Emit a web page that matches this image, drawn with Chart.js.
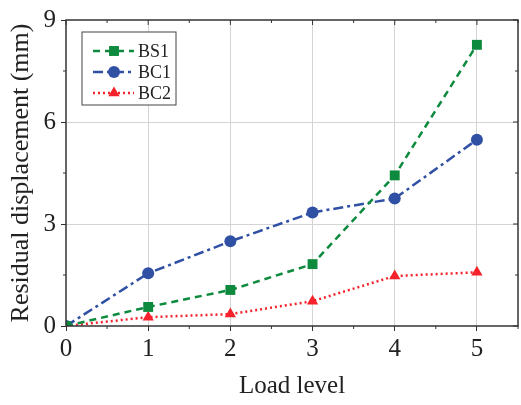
<!DOCTYPE html>
<html lang="en">
  <head>
    <meta charset="UTF-8" />
    <script src="https://cdn.jsdelivr.net/npm/chart.js@4.4.0/dist/chart.umd.min.js"></script>
    <title>Residual displacement</title>
    <style>
      html, body { margin: 0; padding: 0; background: #fff; }
      #wrap { width: 521px; height: 405px; }
    </style>
  </head>
  <body>
    <div id="wrap"><canvas id="myChart"></canvas></div>

    <script>
      const loadLevels = [0, 1, 2, 3, 4, 5];
      const bs1 = [0, 0.56, 1.06, 1.82, 4.43, 8.27];
      const bc1 = [0, 1.55, 2.49, 3.34, 3.75, 5.48];
      const bc2 = [0, 0.26, 0.35, 0.73, 1.47, 1.58];
      const xTicks = [0, 1, 2, 3, 4, 5];
      const yTicks = [0, 3, 6, 9];

      const FONT = "'Liberation Serif', 'Times New Roman', serif";
      const GREEN = "#0e8a3e";
      const BLUE = "#3050a4";
      const RED = "#f5222b";

      const series = [
        { label: "BS1", data: bs1, color: GREEN, dash: [7, 5], style: "rect", radius: 7 },
        { label: "BC1", data: bc1, color: BLUE, dash: [10, 4, 3, 4], style: "circle", radius: 6 },
        { label: "BC2", data: bc2, color: RED, dash: [2, 3], style: "triangle", radius: 6.5 },
      ];

      // frame, minor ticks and the legend box inside the plot
      const framePlugin = {
        id: "frame",
        afterDraw(chart) {
          const { ctx, chartArea: a, scales } = chart;
          ctx.save();
          ctx.strokeStyle = "#333";
          ctx.lineWidth = 1.5;
          ctx.setLineDash([]);
          ctx.strokeRect(a.left, a.top, a.right - a.left, a.bottom - a.top);

          ctx.lineWidth = 1;
          for (let v = 0; v <= 5.5; v += 0.5) {
            const x = scales.x.getPixelForValue(v);
            const len = Number.isInteger(v) ? 5 : 3;
            ctx.beginPath();
            ctx.moveTo(x, a.top);
            ctx.lineTo(x, a.top + len);
            ctx.stroke();
            if (!Number.isInteger(v)) {
              ctx.beginPath();
              ctx.moveTo(x, a.bottom);
              ctx.lineTo(x, a.bottom + 3);
              ctx.stroke();
            }
          }
          for (let v = 0; v <= 9; v += 1.5) {
            const y = scales.y.getPixelForValue(v);
            const len = v % 3 === 0 ? 5 : 3;
            ctx.beginPath();
            ctx.moveTo(a.right, y);
            ctx.lineTo(a.right - len, y);
            ctx.stroke();
            if (v % 3 !== 0) {
              ctx.beginPath();
              ctx.moveTo(a.left, y);
              ctx.lineTo(a.left - 3, y);
              ctx.stroke();
            }
          }

          // legend
          const bx = 82, by = 32, bw = 94, bh = 73;
          ctx.fillStyle = "#fff";
          ctx.fillRect(bx, by, bw, bh);
          ctx.strokeStyle = "#444";
          ctx.lineWidth = 1;
          ctx.strokeRect(bx, by, bw, bh);
          series.forEach((s, i) => {
            const y = 51 + i * 21;
            ctx.strokeStyle = s.color;
            ctx.lineWidth = 2.5;
            ctx.setLineDash(s.dash);
            ctx.beginPath();
            ctx.moveTo(93, y);
            ctx.lineTo(134, y);
            ctx.stroke();
            ctx.setLineDash([]);
            ctx.fillStyle = s.color;
            Chart.helpers.drawPoint(ctx, { pointStyle: s.style, radius: s.radius, borderWidth: 0 }, 114, y);
            ctx.fillStyle = "#222";
            ctx.font = "18px " + FONT;
            ctx.textBaseline = "middle";
            ctx.fillText(s.label, 138, y + 1);
          });
          ctx.restore();
        },
      };

      function draw() {
        const ctx = document.getElementById("myChart").getContext("2d");
        new Chart(ctx, {
          type: "line",
          data: {
            datasets: series.map((s) => ({
              label: s.label,
              data: loadLevels.map((x, i) => ({ x, y: s.data[i] })),
              borderColor: s.color,
              backgroundColor: s.color,
              borderWidth: 2.5,
              borderDash: s.dash,
              pointStyle: s.style,
              pointRadius: s.radius,
              pointBorderWidth: 0,
              fill: false,
              tension: 0,
            })),
          },
          options: {
            responsive: true,
            maintainAspectRatio: false,
            animation: false,
            layout: { autoPadding: false, padding: { top: 19, right: 3, left: 0, bottom: 0 } },
            plugins: { legend: { display: false }, tooltip: { enabled: false } },
            scales: {
              x: {
                type: "linear",
                min: 0,
                max: 5.5,
                afterBuildTicks: (axis) => { axis.ticks = xTicks.map((v) => ({ value: v })); },
                afterFit: (axis) => { axis.height = 79; },
                border: { display: false },
                grid: {
                  color: (c) => (c.tick && c.tick.value === 0 ? "rgba(0,0,0,0)" : "#d4d4d4"),
                  tickColor: "#333",
                  tickLength: 5,
                  lineWidth: 1,
                },
                ticks: {
                  color: "#222",
                  font: { family: FONT, size: 25 },
                  padding: 3,
                  maxRotation: 0,
                },
                title: {
                  display: true,
                  text: "Load level",
                  color: "#222",
                  font: { family: FONT, size: 25 },
                  padding: { top: 8 },
                },
              },
              y: {
                min: 0,
                max: 9,
                afterBuildTicks: (axis) => { axis.ticks = yTicks.map((v) => ({ value: v })); },
                afterFit: (axis) => { axis.width = 66; },
                border: { display: false },
                grid: {
                  color: (c) => (c.tick && (c.tick.value === 0 || c.tick.value === 9) ? "rgba(0,0,0,0)" : "#d4d4d4"),
                  tickColor: "#333",
                  tickLength: 5,
                  lineWidth: 1,
                },
                ticks: {
                  color: "#222",
                  font: { family: FONT, size: 25 },
                  padding: 5,
                },
                title: {
                  display: true,
                  text: "Residual displacement (mm)",
                  color: "#222",
                  font: { family: FONT, size: 26 },
                  padding: { top: 6, bottom: 0 },
                },
              },
            },
          },
          plugins: [framePlugin],
        });
      }

      document.fonts.load("20px 'Liberation Serif'").then(draw, draw);
    </script>
  </body>
</html>
